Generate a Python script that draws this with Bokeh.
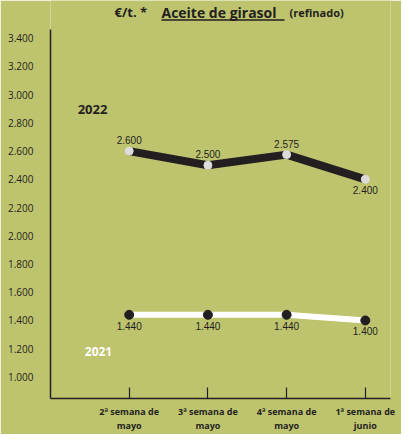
from bokeh.plotting import figure
from bokeh.models import Range1d, FixedTicker, ColumnDataSource, Label, BoxAnnotation
from bokeh.embed import file_html
from bokeh.resources import INLINE
from bokeh.core.properties import value

# ---- data ----
weeks = ["2ª semana de\nmayo", "3ª semana de\nmayo", "4ª semana de\nmayo", "1ª semana de\njunio"]
precio_2022 = [2600, 2500, 2575, 2400]
precio_2021 = [1440, 1440, 1440, 1400]
etiquetas_2022 = ["2.600", "2.500", "2.575", "2.400"]
etiquetas_2021 = ["1.440", "1.440", "1.440", "1.400"]
y_ticks = [1000, 1200, 1400, 1600, 1800, 2000, 2200, 2400, 2600, 2800, 3000, 3200, 3400]
y_tick_labels = ["1.000", "1.200", "1.400", "1.600", "1.800", "2.000", "2.200",
                 "2.400", "2.600", "2.800", "3.000", "3.200", "3.400"]

GREEN = "#bec46e"
DARK = "#231f20"

xs = list(range(len(weeks)))

p = figure(width=401, height=434, output_backend="svg", toolbar_location=None, title=None,
           x_range=Range1d(-1.0, 3.32), y_range=Range1d(847, 3667),
           min_border_left=50, min_border_right=11, min_border_top=0, min_border_bottom=30)
p.background_fill_color = GREEN
p.border_fill_color = GREEN
p.outline_line_color = None
p.grid.visible = False

# y axis
p.yaxis.ticker = FixedTicker(ticks=y_ticks)
p.yaxis.bounds = (847, 3464)
p.yaxis.major_label_overrides = {t: l for t, l in zip(y_ticks, y_tick_labels)}
p.yaxis.major_tick_line_color = None
p.yaxis.minor_tick_line_color = None
p.yaxis.major_label_standoff = 11
p.yaxis.major_label_text_font = "Open Sans"
p.yaxis.major_label_text_font_size = "10px"
p.yaxis.major_label_text_color = DARK
p.yaxis.axis_line_color = DARK
p.yaxis.axis_line_width = 1.5

# x axis
p.xaxis.ticker = FixedTicker(ticks=xs)
p.xaxis.major_label_overrides = {i: w for i, w in zip(xs, weeks)}
p.xaxis.major_tick_in = 11
p.xaxis.major_tick_out = 0
p.xaxis.major_tick_line_color = DARK
p.xaxis.major_tick_line_width = 1.2
p.xaxis.minor_tick_line_color = None
p.xaxis.major_label_standoff = 6
p.xaxis.major_label_text_font = "Open Sans"
p.xaxis.major_label_text_font_style = "bold"
p.xaxis.major_label_text_font_size = "9px"
p.xaxis.major_label_text_color = DARK
p.xaxis.major_label_text_line_height = 1.1
p.xaxis.axis_line_color = DARK
p.xaxis.axis_line_width = 1.5

# series 2022
s22 = ColumnDataSource(dict(x=xs, y=precio_2022, t=etiquetas_2022,
                            off=[-7, -7, -7, 7], base=["bottom", "bottom", "bottom", "top"]))
p.line("x", "y", source=s22, line_color=DARK, line_width=8)
p.scatter("x", "y", source=s22, size=8, fill_color="#dcdcdc", line_color="#dcdcdc")
p.text("x", "y", text="t", source=s22, y_offset="off", text_baseline="base", text_align="center",
       text_font=value("Liberation Sans"), text_font_size="10px", text_color=DARK)

# series 2021
s21 = ColumnDataSource(dict(x=xs, y=precio_2021, t=etiquetas_2021))
p.line("x", "y", source=s21, line_color="white", line_width=6)
p.scatter("x", "y", source=s21, size=9, fill_color=DARK, line_color=DARK)
p.text("x", "y", text="t", source=s21, y_offset=7, text_baseline="top", text_align="center",
       text_font=value("Liberation Sans"), text_font_size="10px", text_color=DARK)

# series labels
p.add_layout(Label(x=-0.466, y=2892, text="2022", text_align="center", text_baseline="middle",
                   text_font="Open Sans", text_font_style="bold", text_font_size="13px",
                   text_color=DARK))
p.add_layout(Label(x=-0.39, y=1181, text="2021", text_align="center", text_baseline="middle",
                   text_font="Open Sans", text_font_style="bold", text_font_size="12px",
                   text_color="white"))

# title
title_kw = dict(y=3583, text_baseline="alphabetic",
                text_font="Open Sans", text_font_style="bold", text_color=DARK)
p.add_layout(Label(x=-0.187, text="€/t. *", text_font_size="13px", **title_kw))
p.add_layout(Label(x=0.41, text="Aceite de girasol", text_font_size="14px", **title_kw))
p.add_layout(Label(x=2.037, text="(refinado)", text_font_size="11px", **title_kw))
p.add_layout(BoxAnnotation(left=0.41, right=1.973, bottom=3523, top=3534,
                           fill_color=DARK, fill_alpha=1, line_color=None))

open("out.html", "w").write(file_html(p, INLINE))
